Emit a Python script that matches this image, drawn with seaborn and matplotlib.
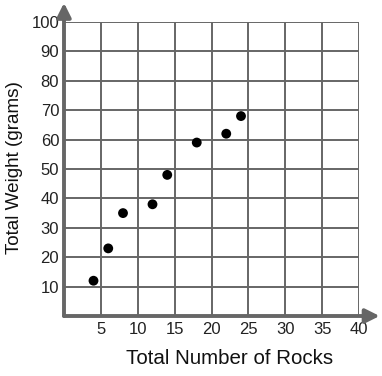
import matplotlib
matplotlib.use("Agg")
import matplotlib.pyplot as plt
import seaborn as sns
import pandas as pd

rocks = [4, 6, 8, 12, 14, 18, 22, 24]
weight = [12, 23, 35, 38, 48, 59, 62, 68]
x_ticks = [5, 10, 15, 20, 25, 30, 35, 40]
y_ticks = [10, 20, 30, 40, 50, 60, 70, 80, 90, 100]

sns.set_theme(style="white")
plt.rcParams['font.family'] = ['Liberation Sans', 'DejaVu Sans']

df = pd.DataFrame({"rocks": rocks, "weight": weight})

fig = plt.figure(figsize=(3.82, 3.76), dpi=100)
ax = fig.add_axes([64/382, 1-316/376, (359-64)/382, (316-22)/376])

grid_c = "#666666"
for xv in x_ticks:
    ax.axvline(xv, color=grid_c, lw=1.4, zorder=1)
for yv in y_ticks:
    ax.axhline(yv, color=grid_c, lw=1.4, zorder=1)

sns.scatterplot(data=df, x="rocks", y="weight", ax=ax, color="black", s=50,
                edgecolor="none", zorder=5, clip_on=False)

ax.set_xlim(0, 40)
ax.set_ylim(0, 100)
ax.set_xticks(x_ticks)
ax.set_yticks(y_ticks)
for s in ax.spines.values():
    s.set_visible(False)

# axes with arrows
ax.annotate("", xy=(1.07, 0), xytext=(0, 0), xycoords="axes fraction",
            textcoords="axes fraction",
            arrowprops=dict(arrowstyle="-|>,head_length=0.7,head_width=0.35",
                            color=grid_c, lw=2.8, shrinkA=0, shrinkB=0),
            annotation_clip=False, zorder=6)
ax.annotate("", xy=(0, 1.065), xytext=(0, 0), xycoords="axes fraction",
            textcoords="axes fraction",
            arrowprops=dict(arrowstyle="-|>,head_length=0.7,head_width=0.35",
                            color=grid_c, lw=2.8, shrinkA=0, shrinkB=0),
            annotation_clip=False, zorder=6)

ax.tick_params(axis="x", direction="inout", length=7, width=2.5, color=grid_c,
               labelsize=12, pad=1, labelcolor="#222222")
ax.tick_params(axis="y", direction="out", length=3, width=2.5, color=grid_c,
               labelsize=12, pad=0.5, labelcolor="#222222")

ax.set_xlabel("Total Number of Rocks", fontsize=14.8, color="#111111")
ax.set_ylabel("Total Weight (grams)", fontsize=13.6, color="#111111")
ax.xaxis.set_label_coords((229.5-64)/(359-64), (316-359)/(316-22))
ax.yaxis.set_label_coords((15-64)/(359-64), (316-168)/(316-22))
ax.xaxis.label.set_va("center")
ax.yaxis.label.set_va("center")

fig.savefig("out.png", dpi=100, facecolor="white")
